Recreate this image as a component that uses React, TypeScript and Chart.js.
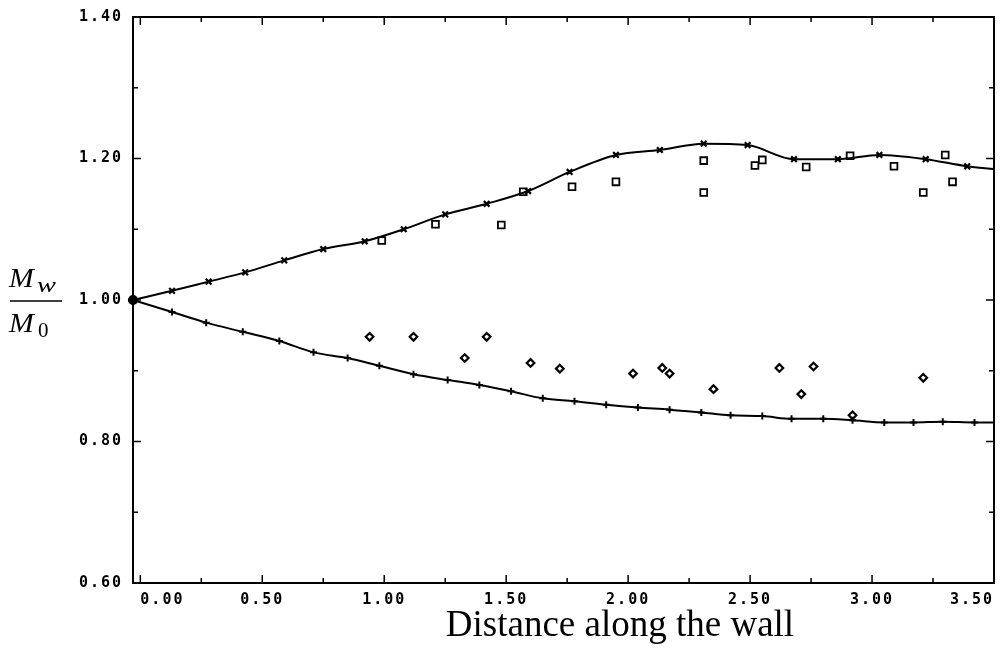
import React, { useEffect, useRef } from 'react';
import { Chart, registerables } from 'chart.js';

Chart.register(...registerables);

// ---- axis ticks ----
const xTickValues = [0, 0.25, 0.5, 0.75, 1, 1.25, 1.5, 1.75, 2, 2.25, 2.5, 2.75, 3, 3.25, 3.5];
const xLabelValues = [0, 0.5, 1, 1.5, 2, 2.5, 3, 3.5];
const yTickValues = [0.6, 0.7, 0.8, 0.9, 1.0, 1.1, 1.2, 1.3, 1.4];
const yLabelValues = [0.6, 0.8, 1.0, 1.2, 1.4];
const xTitle = 'Distance along the wall';

// ---- upper computed curve (x markers) ----
const upperX = [-0.03, 0.13, 0.28, 0.43, 0.59, 0.75, 0.92, 1.08, 1.25, 1.42, 1.59, 1.76, 1.95, 2.13, 2.31, 2.49, 2.68, 2.86, 3.03, 3.22, 3.39, 3.5];
const upperY = [1.0, 1.013, 1.026, 1.039, 1.056, 1.072, 1.083, 1.1, 1.121, 1.136, 1.154, 1.181, 1.205, 1.212, 1.221, 1.219, 1.199, 1.199, 1.205, 1.199, 1.189, 1.185];

// ---- lower computed curve (+ markers) ----
const lowerX = [-0.03, 0.13, 0.27, 0.42, 0.57, 0.71, 0.85, 0.98, 1.12, 1.26, 1.39, 1.52, 1.65, 1.78, 1.91, 2.04, 2.17, 2.3, 2.42, 2.55, 2.67, 2.8, 2.92, 3.05, 3.17, 3.29, 3.42, 3.5];
const lowerY = [1.0, 0.983, 0.968, 0.955, 0.942, 0.926, 0.918, 0.907, 0.895, 0.887, 0.88, 0.871, 0.861, 0.857, 0.852, 0.848, 0.845, 0.841, 0.837, 0.836, 0.832, 0.832, 0.83, 0.827, 0.827, 0.828, 0.827, 0.827];

// ---- measured points (squares) ----
const squareX = [0.99, 1.21, 1.48, 1.57, 1.77, 1.95, 2.31, 2.31, 2.52, 2.55, 2.73, 2.91, 3.09, 3.21, 3.3, 3.33];
const squareY = [1.084, 1.107, 1.106, 1.153, 1.16, 1.167, 1.197, 1.152, 1.19, 1.198, 1.188, 1.204, 1.189, 1.152, 1.205, 1.167];

// ---- measured points (diamonds) ----
const diamondX = [0.94, 1.12, 1.33, 1.42, 1.6, 1.72, 2.02, 2.14, 2.17, 2.35, 2.62, 2.71, 2.76, 2.92, 3.21];
const diamondY = [0.948, 0.948, 0.918, 0.948, 0.911, 0.903, 0.896, 0.904, 0.896, 0.874, 0.904, 0.867, 0.906, 0.837, 0.89];

const zip = (xs: number[], ys: number[]) => xs.map((x, i) => ({ x, y: ys[i] }));
const isLabel = (list: number[], v: number) => list.some((l) => Math.abs(l - v) < 1e-6);

const tickFont = { family: '"DejaVu Sans Mono", monospace', weight: 'bold' as const, size: 15 };

const drawStretched = (ctx: CanvasRenderingContext2D, text: string, x: number, y: number, sx: number) => {
  ctx.save();
  ctx.translate(x, y);
  ctx.scale(sx, 1);
  ctx.fillText(text, 0, 0);
  ctx.restore();
};

const framePlugin = {
  id: 'frameAndTitles',
  beforeDraw(chart: any) {
    chart.ctx.letterSpacing = '2px';
  },
  afterDraw(chart: any) {
    const ctx = chart.ctx as CanvasRenderingContext2D;
    const { left, right, top, bottom } = chart.chartArea;
    const xs = chart.scales.x;
    const ys = chart.scales.y;
    ctx.save();
    (ctx as any).letterSpacing = '0px';
    ctx.strokeStyle = '#000';
    ctx.lineWidth = 2;
    ctx.strokeRect(left, top, right - left, bottom - top);
    ctx.lineWidth = 1.5;
    ctx.beginPath();
    xTickValues.forEach((v) => {
      const px = xs.getPixelForValue(v);
      const len = isLabel(xLabelValues, v) ? 8 : 5;
      ctx.moveTo(px, bottom);
      ctx.lineTo(px, bottom - len);
      ctx.moveTo(px, top);
      ctx.lineTo(px, top + len);
    });
    yTickValues.forEach((v) => {
      const py = ys.getPixelForValue(v);
      const len = isLabel(yLabelValues, v) ? 8 : 5;
      ctx.moveTo(left, py);
      ctx.lineTo(left + len, py);
      ctx.moveTo(right, py);
      ctx.lineTo(right - len, py);
    });
    ctx.stroke();

    // x title
    ctx.fillStyle = '#000';
    ctx.font = '37px "Liberation Serif", serif';
    ctx.textAlign = 'center';
    ctx.textBaseline = 'alphabetic';
    ctx.fillText(xTitle, 620, 636);

    // y title as fraction M_w / M_0
    ctx.textAlign = 'left';
    ctx.font = 'italic 27px "Liberation Serif", serif';
    drawStretched(ctx, 'M', 9, 287, 1.1);
    ctx.font = 'italic 21px "Liberation Serif", serif';
    drawStretched(ctx, 'w', 37, 292, 1.35);
    ctx.lineWidth = 1.5;
    ctx.beginPath();
    ctx.moveTo(10, 301);
    ctx.lineTo(62, 301);
    ctx.stroke();
    ctx.font = 'italic 27px "Liberation Serif", serif';
    drawStretched(ctx, 'M', 9, 332, 1.1);
    ctx.font = '21px "Liberation Serif", serif';
    ctx.fillText('0', 38, 337);
    ctx.restore();
  },
};

export default function App() {
  const canvasRef = useRef<HTMLCanvasElement | null>(null);

  useEffect(() => {
    document.body.style.margin = '0';
    const canvas = canvasRef.current;
    if (!canvas) return;
    const lastUpper = upperX.length - 1;
    const lastLower = lowerX.length - 1;
    const chart = new Chart(canvas, {
      type: 'line',
      data: {
        datasets: [
          {
            data: zip(upperX, upperY),
            borderColor: '#000',
            borderWidth: 2,
            backgroundColor: '#000',
            cubicInterpolationMode: 'monotone',
            pointStyle: (c: any) => (c.dataIndex === 0 ? 'circle' : 'crossRot'),
            pointRadius: (c: any) => (c.dataIndex === lastUpper ? 0 : 4),
            pointBorderWidth: 2.2,
            pointBorderColor: '#000',
            pointBackgroundColor: '#000',
            clip: false,
          } as any,
          {
            data: zip(lowerX, lowerY),
            borderColor: '#000',
            borderWidth: 2,
            backgroundColor: '#000',
            cubicInterpolationMode: 'monotone',
            pointStyle: (c: any) => (c.dataIndex === 0 ? 'circle' : 'cross'),
            pointRadius: (c: any) => (c.dataIndex === lastLower ? 0 : 3.5),
            pointBorderWidth: 2,
            pointBorderColor: '#000',
            pointBackgroundColor: '#000',
            clip: false,
          } as any,
          {
            data: zip(squareX, squareY),
            showLine: false,
            pointStyle: 'rect',
            pointRadius: 4.8,
            pointBorderWidth: 1.8,
            pointBorderColor: '#000',
            pointBackgroundColor: '#fff',
            clip: false,
          } as any,
          {
            data: zip(diamondX, diamondY),
            showLine: false,
            pointStyle: 'rectRot',
            pointRadius: 3.8,
            pointBorderWidth: 2.2,
            pointBorderColor: '#000',
            pointBackgroundColor: '#fff',
            clip: false,
          } as any,
        ],
      },
      options: {
        animation: false,
        responsive: true,
        maintainAspectRatio: false,
        layout: { padding: { top: 17, right: 8, left: 0, bottom: 0 } },
        plugins: { legend: { display: false }, tooltip: { enabled: false } },
        elements: { point: { hoverRadius: 4 } },
        scales: {
          x: {
            type: 'linear',
            min: -0.03,
            max: 3.5,
            afterBuildTicks: (s: any) => {
              s.ticks = xTickValues.map((value) => ({ value }));
            },
            afterFit: (s: any) => {
              s.height = 65;
              s.paddingLeft = 0;
              s.paddingRight = 0;
            },
            grid: { display: false, drawTicks: false },
            border: { display: false },
            ticks: {
              autoSkip: false,
              maxRotation: 0,
              minRotation: 0,
              align: 'inner',
              padding: 8,
              color: '#000',
              font: tickFont,
              callback: (v: any) => (isLabel(xLabelValues, Number(v)) ? Number(v).toFixed(2) : ''),
            },
          },
          y: {
            type: 'linear',
            min: 0.6,
            max: 1.4,
            afterBuildTicks: (s: any) => {
              s.ticks = yTickValues.map((value) => ({ value }));
            },
            afterFit: (s: any) => {
              s.width = 133;
              s.paddingTop = 0;
              s.paddingBottom = 0;
            },
            grid: { display: false, drawTicks: false },
            border: { display: false },
            ticks: {
              autoSkip: false,
              padding: 10,
              color: '#000',
              font: tickFont,
              callback: (v: any) => (isLabel(yLabelValues, Number(v)) ? Number(v).toFixed(2) : ''),
            },
          },
        },
      } as any,
      plugins: [framePlugin],
    });
    return () => chart.destroy();
  }, []);

  return (
    <div style={{ width: 1002, height: 648, position: 'relative', background: '#fff' }}>
      <canvas ref={canvasRef} />
    </div>
  );
}
